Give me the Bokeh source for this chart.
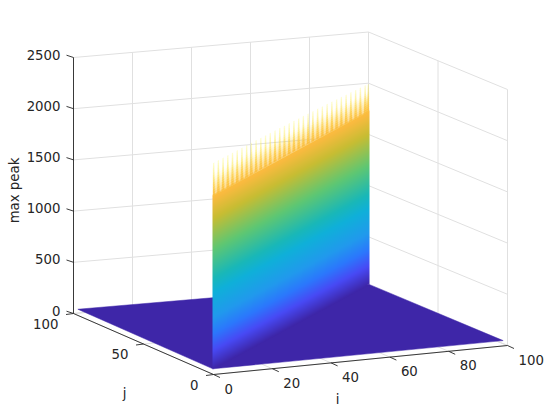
import numpy as np
from bokeh.plotting import figure
from bokeh.models import Range1d
from bokeh.core.properties import value
from bokeh.embed import file_html
from bokeh.resources import INLINE

# ---- data ----
i_ticks = [0, 20, 40, 60, 80, 100]
j_ticks = [0, 50, 100]
z_ticks = [0, 500, 1000, 1500, 2000, 2500]
floor_i = [0.5, 99, 99.5, 1]    # corners of the surface
floor_j = [1.5, 1, 98.5, 99]
ridge_end_i = [0.5, 99.5]       # the ridge runs between these two grid points
ridge_end_j = [1.5, 98.5]
floor_level = 45
ridge_i = [1, 4, 7, 10, 13, 16, 19, 22, 25, 28, 31, 34, 37, 40, 43, 46, 49,
           52, 55, 58, 61, 64, 67, 70, 73, 76, 79, 82, 85, 88, 91, 94, 97, 99]
ridge_peak = [2052, 2050, 2049, 2048, 2046, 2045, 2044, 2042, 2041, 2040, 2038, 2037,
              2035, 2034, 2033, 2031, 2030, 2028, 2027, 2026, 2024, 2023, 2022, 2020,
              2019, 2018, 2016, 2015, 2013, 2012, 2011, 2009, 2007, 2005]
ridge_solid_top = 1740

parula = [(0.0, (.2422, .1504, .6603)), (.09, (.28, .29, .96)), (.17, (.17, .47, .99)),
          (.25, (.13, .60, .93)), (.37, (.06, .69, .85)), (.44, (.10, .72, .72)),
          (.58, (.37, .78, .45)), (.73, (.78, .74, .20)), (.83, (.98, .73, .25)),
          (.90, (.99, .80, .19)), (1.0, (.9763, .9831, .0538))]

# ---- view: screen position of the box corners at z = 0 ----
F, R, L, B = (213, 374), (507, 345), (73, 313), (368, 287.5)
Z_SCALE = 0.1024


def proj(i, j, z=0.0):
    u, v = i / 100.0, j / 100.0
    x = F[0]*(1-u)*(1-v) + R[0]*u*(1-v) + L[0]*(1-u)*v + B[0]*u*v
    y = F[1]*(1-u)*(1-v) + R[1]*u*(1-v) + L[1]*(1-u)*v + B[1]*u*v
    return x, y - z * Z_SCALE


def ridge(i, z):
    return proj(i, float(np.interp(i, ridge_end_i, ridge_end_j)), z)


def rgb_of(z):
    t = np.clip((np.asarray(z, float) - floor_level) / (max(ridge_peak) - floor_level), 0, 1)
    ks = [a for a, _ in parula]
    return [np.interp(t, ks, [c[n] for _, c in parula]) for n in range(3)]


def colour(z):
    r, g, b = rgb_of(z)
    return "#%02x%02x%02x" % (int(round(255 * r)), int(round(255 * g)), int(round(255 * b)))


p = figure(width=552, height=412, output_backend="svg", toolbar_location=None,
           x_range=Range1d(0, 552), y_range=Range1d(412, 0), min_border=0)
p.axis.visible = False
p.grid.visible = False
p.outline_line_color = None

GRID = "#e0e0e0"
zmax = z_ticks[-1]
# back-plane and floor grid
xs, ys = [], []
for t in i_ticks:
    a, b, c = proj(t, 0), proj(t, 100), proj(t, 100, zmax)
    xs.append([a[0], b[0], c[0]]); ys.append([a[1], b[1], c[1]])
for t in j_ticks:
    a, b, c = proj(0, t), proj(100, t), proj(100, t, zmax)
    xs.append([a[0], b[0], c[0]]); ys.append([a[1], b[1], c[1]])
for t in z_ticks:
    a, b, c = proj(0, 100, t), proj(100, 100, t), proj(100, 0, t)
    xs.append([a[0], b[0], c[0]]); ys.append([a[1], b[1], c[1]])
p.multi_line(xs, ys, line_color=GRID, line_width=1)

# floor of the surface
pts = [proj(a, b, floor_level) for a, b in zip(floor_i, floor_j)]
p.patch([q[0] for q in pts], [q[1] for q in pts], fill_color=colour(floor_level),
        line_color=colour(floor_level), line_width=0.5)

# solid part of the ridge, shaded smoothly by height
i0, i1 = ridge_end_i
xa, ya = ridge(i0, floor_level)
xb, yb = ridge(i1, floor_level)
X0, X1 = int(round(xa)), int(round(xb))
Y0, Y1 = int(ridge(i1, ridge_solid_top)[1]) - 2, int(np.ceil(ya)) + 1
W, H = X1 - X0, Y1 - Y0
cx = np.arange(W)[None, :] + X0 + 0.5
cy = np.arange(H)[:, None] + Y0 + 0.5
base = ya + (cx - xa) * (yb - ya) / (xb - xa)       # pixel row of the ridge foot
zv = (base - cy) / Z_SCALE + floor_level
r, g, b = rgb_of(zv)
alpha = np.clip(base - cy + 0.5, 0, 1) * np.clip((ridge_solid_top - zv) * Z_SCALE + 0.5, 0, 1)
img = np.zeros((H, W), dtype=np.uint32)
view = img.view(dtype=np.uint8).reshape((H, W, 4))
view[..., 0] = (r * 255).round().astype(np.uint8)
view[..., 1] = (g * 255).round().astype(np.uint8)
view[..., 2] = (b * 255).round().astype(np.uint8)
view[..., 3] = (alpha * 255).round().astype(np.uint8)
p.image_rgba(image=[img], x=X0, y=Y0, dw=W, dh=H)

# spikes at the top of the ridge: a pale veil and thin bars fading upwards
sx, sy, sc, sa = [], [], [], []
for c, pk in zip(ridge_i, ridge_peak):
    lev = np.linspace(ridge_solid_top - 10, pk, 15)
    span = pk - lev[0]
    for a, b_ in zip(lev[:-1], lev[1:]):
        f0, f1 = (a - lev[0]) / span, (b_ - lev[0]) / span
        fm = (f0 + f1) / 2
        if fm < 0.72:
            la, ra = max(c - 1.5, i0), min(c + 1.5, i1)
            q = [ridge(la, a), ridge(ra, a), ridge(ra, b_), ridge(la, b_)]
            sx.append([v[0] for v in q]); sy.append([v[1] for v in q])
            sc.append(colour((a + b_) / 2)); sa.append(0.75 * (1 - fm / 0.72) ** 1.3)
        wa, wb = 0.8 - 0.4 * f0, 0.8 - 0.4 * f1
        la, ra = max(c - wa, i0), min(c + wa, i1)
        lb, rb = max(c - wb, i0), min(c + wb, i1)
        q = [ridge(la, a), ridge(ra, a), ridge(rb, b_), ridge(lb, b_)]
        sx.append([v[0] for v in q]); sy.append([v[1] for v in q])
        sc.append(colour((a + b_) / 2)); sa.append(0.92 - 0.74 * fm)
p.patches(sx, sy, fill_color=sc, fill_alpha=sa, line_color=None)

# axes
INK = "#262626"
ax = [proj(0, 100), proj(0, 0), proj(100, 0)]
p.line([q[0] for q in ax], [q[1] for q in ax], line_color=INK, line_width=0.9)
zb, zt = proj(0, 100), proj(0, 100, zmax)
p.line([zb[0], zt[0]], [zb[1], zt[1]], line_color=INK, line_width=0.9)

x0, y0, x1, y1 = [], [], [], []
for t in i_ticks:
    a = proj(t, 0); x0.append(a[0]); y0.append(a[1]); x1.append(a[0] + 6.5); y1.append(a[1] + 3)
for t in j_ticks:
    a = proj(0, t); x0.append(a[0]); y0.append(a[1]); x1.append(a[0] - 7.5); y1.append(a[1] + 1)
for t in z_ticks:
    a = proj(0, 100, t); x0.append(a[0]); y0.append(a[1]); x1.append(a[0] - 7); y1.append(a[1] - 2.3)
p.segment(x0, y0, x1, y1, line_color=INK, line_width=0.9)

FONT = value("DejaVu Sans")
SIZE = value("13.3px")


def labels(x, y, t, align):
    p.text(x, y, text=t, text_font=FONT, text_font_size=SIZE, text_color=INK,
           text_align=align, text_baseline="middle")


q = [proj(t, 0) for t in i_ticks]
labels([v[0] + 11 for v in q], [v[1] + 14 for v in q], [str(t) for t in i_ticks], "left")
q = [proj(0, t) for t in j_ticks]
labels([v[0] - 15 for v in q], [v[1] + 10 for v in q], [str(t) for t in j_ticks], "right")
q = [proj(0, 100, t) for t in z_ticks]
labels([v[0] - 13 for v in q], [v[1] - 3 for v in q], [str(t) for t in z_ticks], "right")

labels([337], [399], ["i"], "center")
labels([124], [393], ["j"], "center")
p.text([14], [190], text=["max peak"], angle=np.pi / 2, text_font=FONT,
       text_font_size=SIZE, text_color=INK, text_align="center", text_baseline="middle")

open("out.html", "w").write(file_html(p, INLINE))
